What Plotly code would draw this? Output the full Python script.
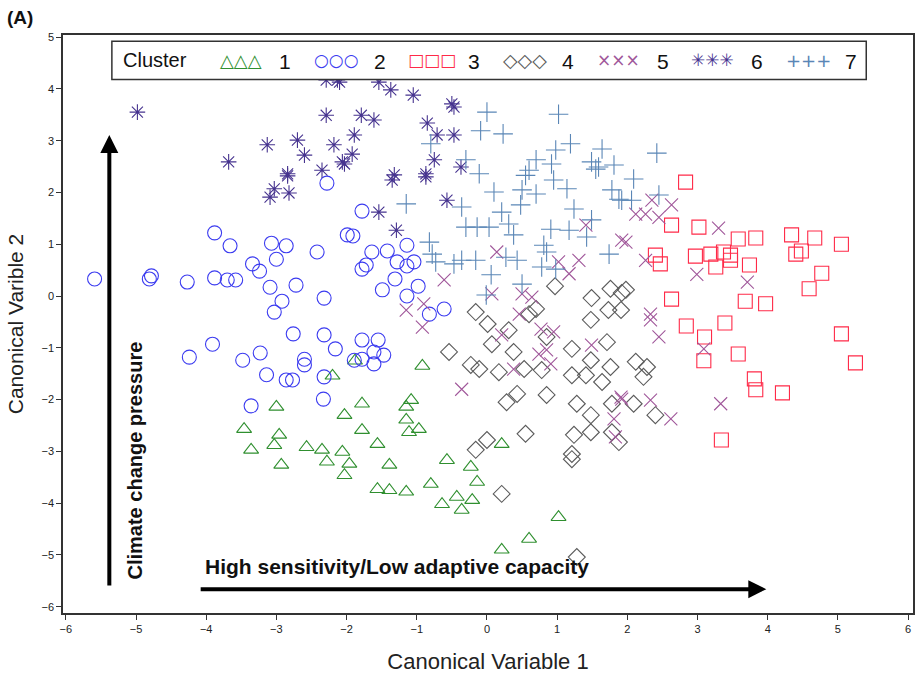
import plotly.graph_objects as go

# ---------------- data ----------------
c1_x = [-2.20, -3.00, -2.03, -3.46, -2.96, -3.03, -3.36, -2.57, -2.35, -2.06, -1.96, -2.03, -2.93, -2.28,
        -1.78, -1.08, -1.15, -1.15, -1.78, -1.11, -0.97, -1.56, -0.92, 0.21, -0.57, -1.39, -1.56, -1.39,
        -1.15, -0.80, -0.23, -0.14, -0.43, -0.64, -0.36, -0.21, 0.21, 0.60, 1.02, -1.88]
c1_y = [-1.54, -2.14, -2.30, -2.57, -2.68, -2.88, -2.97, -2.92, -2.97, -3.01, -3.24, -3.46, -3.26, -3.20,
        -2.08, -2.01, -2.14, -2.39, -2.59, -2.63, -2.57, -2.86, -1.35, -2.86, -3.17, -3.26, -3.73, -3.75,
        -3.78, -3.63, -3.30, -3.59, -3.88, -4.02, -4.13, -3.94, -4.90, -4.69, -4.27, -1.25]

c2_x = [-5.59, -4.81, -4.78, -4.27, -3.88, -3.66, -3.88, -3.70, -3.58, -3.34, -3.24, -3.07, -2.86, -3.00,
        -3.09, -2.72, -2.92, -3.03, -2.42, -2.32, -2.28, -1.99, -4.24, -3.91, -3.48, -3.23, -3.14, -2.86,
        -2.77, -2.76, -2.32, -2.16, -2.60, -2.60, -2.32, -2.33, -3.36, -1.78, -1.91, -1.64, -1.42, -1.14,
        -1.28, -1.14, -1.04, -1.72, -1.78, -1.31, -0.98, -1.49, -1.14, -0.61, -0.82, -1.78, -1.55, -1.61,
        -1.47, -1.89, -1.78, -1.61]
c2_y = [0.33, 0.33, 0.39, 0.27, 1.22, 0.97, 0.35, 0.31, 0.31, 0.62, 0.48, 1.02, 0.97, 0.71,
        0.17, 0.21, -0.10, -0.31, 0.85, -0.04, 2.18, 1.18, -1.18, -0.93, -1.24, -1.10, -1.52, -1.62,
        -1.62, -0.73, -0.75, -1.02, -1.22, -1.33, -1.56, -1.99, -2.12, 1.64, 1.16, 0.85, 0.87, 0.98,
        0.66, 0.58, 0.66, 0.60, 0.52, 0.33, 0.19, 0.12, 0.00, -0.25, -0.35, -0.85, -0.85, -1.08,
        -1.14, -1.24, -1.22, -1.31]

c3_x = [2.83, 2.63, 3.02, 2.40, 2.47, 2.97, 3.19, 3.26, 3.37, 3.47, 3.47, 3.58, 3.83, 3.74, 4.34, 4.67,
        4.40, 4.48, 5.05, 4.77, 4.59, 2.63, 3.68, 3.97, 2.84, 3.39, 3.10, 3.09, 3.58, 5.05, 5.25, 3.81,
        3.83, 4.21, 3.34]
c3_y = [2.20, 1.37, 1.33, 0.79, 0.62, 0.77, 0.81, 0.56, 0.85, 0.79, 0.69, 1.10, 1.12, 0.60, 1.18, 1.12,
        0.81, 0.87, 1.00, 0.44, 0.14, -0.06, -0.10, -0.15, -0.58, -0.52, -0.79, -1.25, -1.12, -0.73, -1.29,
        -1.60, -1.81, -1.87, -2.78]

c4_x = [0.97, 1.49, 1.76, 1.92, 1.98, 1.73, 1.91, -0.16, 0.70, 0.60, 0.01, 0.31, 0.07, 0.38, -0.54,
        -0.23, -0.11, 0.17, 0.53, 0.78, 0.85, 1.21, 1.48, 1.71, 1.48, 1.21, 1.41, 1.64, 1.76, 0.85, 0.43,
        0.28, 1.28, 1.48, 1.78, 1.48, 1.24, 1.78, 1.88, 0.55, 0.00, -0.16, 1.21, 0.21, 1.21, 1.28, 2.12,
        2.28, 2.23, 2.09, 2.40]
c4_y = [0.19, -0.04, 0.14, 0.06, 0.12, -0.27, -0.27, -0.31, -0.25, -0.35, -0.54, -0.66, -0.93, -1.08,
        -1.08, -1.33, -1.41, -1.47, -1.41, -1.43, -0.79, -1.02, -0.46, -0.89, -1.24, -1.53, -1.53, -1.66,
        -1.37, -1.91, -1.89, -2.05, -2.08, -2.30, -2.08, -2.63, -2.68, -2.63, -2.82, -2.66, -2.78, -2.97,
        -3.05, -3.82, -3.15, -5.04, -1.27, -1.37, -1.56, -2.08, -2.30]

c5_x = [0.14, -0.61, 1.02, 1.31, 1.17, 1.41, 1.92, 0.07, 0.50, 0.64, -0.90, -1.15, 2.35, 2.12, 2.26,
        2.45, 2.63, 1.98, 2.26, 3.30, 2.99, 3.71, 2.33, -0.92, 0.21, 0.46, 0.77, 0.95, 0.74, 0.85, 0.91,
        0.38, -0.36, 1.49, 1.91, 1.81, 1.83, 2.33, 2.45, 3.09, 1.92, 2.33, 2.62, 3.33]
c5_y = [0.85, 0.31, 0.66, 0.69, 0.43, 1.37, 1.08, 0.04, 0.04, -0.02, -0.15, -0.27, 1.85, 1.58, 1.58,
        1.52, 1.76, 1.04, 0.69, 1.31, 0.42, 0.27, -0.35, -0.60, -0.75, -0.35, -0.64, -0.69, -1.12, -1.04,
        -1.31, -1.41, -1.80, -0.95, -1.95, -2.37, -2.72, -0.46, -0.79, -1.02, -1.99, -2.01, -2.37, -2.08]

c6_x = [-4.98, -2.29, -3.13, -2.70, -2.18, -2.60, -3.68, -2.06, -2.35, -2.84, -2.13, -2.29, -2.84,
        -3.03, -2.82, -3.09, -1.54, -1.37, -1.05, -0.50, -0.47, -1.79, -1.61, -0.85, -1.89, -0.71,
        -0.47, -1.92, -2.03, -0.75, -0.37, -1.32, -0.87, -2.10, -1.35, -0.87, -0.57, -1.54, -1.29]
c6_y = [3.55, 3.49, 2.92, 3.01, 2.92, 2.72, 2.59, 2.59, 2.43, 2.36, 4.17, 4.17, 2.32,
        2.07, 1.99, 1.91, 4.13, 3.98, 3.88, 3.71, 3.65, 3.49, 3.40, 3.34, 3.11, 3.11,
        3.11, 2.74, 2.55, 2.63, 2.49, 2.34, 2.36, 4.13, 2.24, 2.30, 1.85, 1.62, 1.27]

c7_x = [0.00, 1.02, -0.09, 0.23, 0.98, 1.19, 1.64, 0.70, 0.92, 1.49, 1.59, 1.81, -0.11, -0.30, 0.60,
        -0.80, 2.42, 2.09, 2.06, 2.45, 0.55, 0.95, 1.55, 1.78, 1.92, 0.10, 0.50, 0.70, 1.14, -1.15,
        -0.36, 0.48, 0.21, 1.24, 1.49, -0.30, -0.14, 0.03, 0.31, 0.38, 0.91, 1.17, 1.42, 0.81, 0.85,
        -0.82, -0.78, -0.73, -0.47, -0.36, -0.16, 0.27, 0.43, 0.78, 0.98, 1.74, 0.06, 0.50, -0.01, 1.88]
c7_y = [3.55, 3.51, 3.19, 3.13, 2.82, 2.94, 2.84, 2.63, 2.55, 2.59, 2.49, 2.53, 2.36, 2.63, 2.43,
        2.94, 2.76, 2.26, 1.85, 1.95, 2.33, 2.24, 2.45, 2.05, 1.85, 2.01, 2.05, 1.97, 2.07, 1.78,
        1.72, 1.76, 1.62, 1.68, 1.47, 1.33, 1.33, 1.33, 1.39, 1.18, 1.29, 1.27, 1.14, 0.98, 0.85,
        1.04, 0.81, 0.66, 0.62, 0.69, 0.69, 0.75, 0.69, 0.56, 0.52, 0.81, 0.41, 0.23, 0.02, 1.87]

x_ticks = [-6, -5, -4, -3, -2, -1, 0, 1, 2, 3, 4, 5, 6]
y_ticks = [-6, -5, -4, -3, -2, -1, 0, 1, 2, 3, 4, 5]

cluster_names = ["1", "2", "3", "4", "5", "6", "7"]
cluster_symbols = ["triangle-up-open", "circle-open", "square-open", "diamond-open",
                   "x-thin-open", "asterisk-open", "cross-thin-open"]
cluster_colors = ["#2f8f2f", "#3b3bf0", "#ff2a48", "#5a5a5a", "#a0579a", "#46338f", "#5a86b6"]
cluster_sizes = [13, 14, 14, 13, 13, 13, 14]
legend_glyphs = ["△△△", "○○○", "□□□", "◇◇◇", "×××", "✳✳✳", "+++"]

xs = [c1_x, c2_x, c3_x, c4_x, c5_x, c6_x, c7_x]
ys = [c1_y, c2_y, c3_y, c4_y, c5_y, c6_y, c7_y]

fig = go.Figure()
for name, sx, sy, sym, col, sz in zip(cluster_names, xs, ys, cluster_symbols, cluster_colors, cluster_sizes):
    fig.add_trace(go.Scatter(
        x=sx, y=sy, mode="markers", name=name, showlegend=False,
        marker=dict(symbol=sym, size=sz, color=col, line=dict(color=col, width=1.1)),
    ))

# ---------------- custom legend box (three glyphs per entry, like the original) ----------------
fig.add_shape(type="rect", xref="paper", yref="paper",
              x0=0.0575, x1=0.945, y0=0.923, y1=0.989,
              line=dict(color="#333333", width=1.5), fillcolor="white", layer="above")
fig.add_annotation(xref="paper", yref="paper", x=0.068, y=0.956, xanchor="left", yanchor="middle",
                   text="Cluster", showarrow=False, font=dict(family="Arial", size=20, color="#111"))
glyph_x = [0.182, 0.293, 0.404, 0.515, 0.626, 0.737, 0.848]
glyph_sizes = [18, 17, 17, 19, 17, 17, 18]
for gx, g, col, nm, gs in zip(glyph_x, legend_glyphs, cluster_colors, cluster_names, glyph_sizes):
    fig.add_annotation(xref="paper", yref="paper", x=gx, y=0.956, xanchor="left", yanchor="middle",
                       text=g, showarrow=False, font=dict(family="DejaVu Sans", size=gs, color=col))
    fig.add_annotation(xref="paper", yref="paper", x=gx + 0.07, y=0.954, xanchor="left", yanchor="middle",
                       text=nm, showarrow=False, font=dict(family="Arial", size=21, color="#111"))

# ---------------- arrows and their labels ----------------
fig.add_annotation(x=-5.38, y=3.11, ax=-5.38, ay=-5.62, xref="x", yref="y", axref="x", ayref="y",
                   showarrow=True, arrowhead=2, arrowsize=0.9, arrowwidth=4, arrowcolor="black", text="")
fig.add_annotation(x=3.98, y=-5.66, ax=-4.10, ay=-5.66, xref="x", yref="y", axref="x", ayref="y",
                   showarrow=True, arrowhead=2, arrowsize=0.9, arrowwidth=4, arrowcolor="black", text="")
fig.add_annotation(x=-5.02, y=-5.52, xref="x", yref="y", xanchor="center", yanchor="bottom",
                   text="<b>Climate change pressure</b>", textangle=-90, showarrow=False,
                   font=dict(family="Arial", size=20, color="#111"))
fig.add_annotation(x=-4.05, y=-5.23, xref="x", yref="y", xanchor="left", yanchor="middle",
                   text="<b>High sensitivity/Low adaptive capacity</b>", showarrow=False,
                   font=dict(family="Arial", size=21, color="#111"))

fig.add_annotation(xref="paper", yref="paper", x=-0.068, y=1.03, xanchor="left", yanchor="middle",
                   text="<b>(A)</b>", showarrow=False, font=dict(family="Arial", size=19, color="#111"))

fig.update_layout(
    width=919, height=681,
    margin=dict(l=63, r=4, t=35, b=68),
    paper_bgcolor="white", plot_bgcolor="white",
    font=dict(family="Arial", color="#222"),
)
fig.update_xaxes(range=[-6.04, 6.07], tickvals=x_ticks, ticks="outside", ticklen=5, tickcolor="#333",
                 showgrid=False, zeroline=False, showline=True, linecolor="#333", linewidth=1.5, mirror=True,
                 tickfont=dict(size=11, color="#222"),
                 title=dict(text="Canonical Variable 1", font=dict(size=22, color="#222"), standoff=20))
fig.update_yaxes(range=[-6.12, 5.04], tickvals=y_ticks, ticks="outside", ticklen=5, tickcolor="#333",
                 showgrid=False, zeroline=False, showline=True, linecolor="#333", linewidth=1.5, mirror=True,
                 tickfont=dict(size=11, color="#222"),
                 title=dict(text="Canonical Varible 2", font=dict(size=21, color="#222"), standoff=12))

fig.write_html("out.html", post_script="document.body.style.margin='0';",
               config={"displayModeBar": False})
